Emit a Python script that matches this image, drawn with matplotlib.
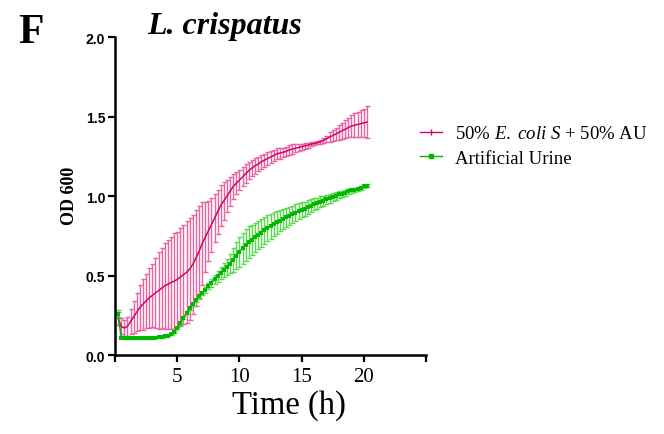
import numpy as np
import matplotlib
matplotlib.use('Agg')
import matplotlib.pyplot as plt
from matplotlib.lines import Line2D

plt.rcParams['mathtext.fontset'] = 'custom'
plt.rcParams['mathtext.rm'] = 'Liberation Serif'
plt.rcParams['mathtext.it'] = 'Liberation Serif:italic'

# sampling times (h), every 15 min
time = np.arange(0.25, 20.26, 0.25)

# 50% E. coli S + 50% AU : mean and SD
ecoli_mean = [0.23, 0.18, 0.17, 0.18, 0.21, 0.24, 0.27, 0.30, 0.32, 0.34,
              0.36, 0.375, 0.39, 0.405, 0.42, 0.435, 0.445, 0.455, 0.465, 0.475,
              0.49, 0.505, 0.52, 0.54, 0.57, 0.61, 0.65, 0.70, 0.74, 0.78,
              0.82, 0.86, 0.90, 0.94, 0.97, 1.00, 1.03, 1.06, 1.08, 1.10,
              1.12, 1.14, 1.16, 1.175, 1.19, 1.20, 1.215, 1.225, 1.235, 1.245,
              1.255, 1.265, 1.27, 1.275, 1.28, 1.29, 1.295, 1.30, 1.305, 1.31,
              1.315, 1.32, 1.325, 1.33, 1.335, 1.34, 1.35, 1.36, 1.37, 1.38,
              1.39, 1.40, 1.41, 1.42, 1.43, 1.44, 1.445, 1.45, 1.455, 1.46,
              1.465]
ecoli_sd = [0.04, 0.05, 0.05, 0.06, 0.08, 0.10, 0.12, 0.14, 0.16, 0.17,
            0.19, 0.20, 0.22, 0.24, 0.25, 0.27, 0.28, 0.29, 0.30, 0.30,
            0.31, 0.31, 0.32, 0.32, 0.31, 0.30, 0.29, 0.26, 0.22, 0.19,
            0.17, 0.15, 0.14, 0.13, 0.12, 0.10, 0.09, 0.08, 0.07, 0.065,
            0.06, 0.06, 0.055, 0.05, 0.05, 0.045, 0.045, 0.04, 0.04, 0.04,
            0.035, 0.035, 0.035, 0.03, 0.03, 0.03, 0.03, 0.025, 0.025, 0.02,
            0.02, 0.015, 0.012, 0.01, 0.008, 0.01, 0.015, 0.02, 0.03, 0.035,
            0.04, 0.045, 0.05, 0.055, 0.06, 0.07, 0.075, 0.08, 0.085, 0.09,
            0.10]

# Artificial Urine : mean and SD
au_mean = [0.26, 0.11, 0.105, 0.105, 0.105, 0.105, 0.105, 0.105, 0.105, 0.105,
           0.107, 0.108, 0.11, 0.112, 0.115, 0.118, 0.122, 0.13, 0.145, 0.17,
           0.20, 0.235, 0.265, 0.295, 0.32, 0.345, 0.37, 0.39, 0.41, 0.435,
           0.455, 0.475, 0.495, 0.515, 0.535, 0.555, 0.575, 0.60, 0.625, 0.65,
           0.67, 0.69, 0.71, 0.725, 0.74, 0.755, 0.77, 0.785, 0.80, 0.81,
           0.825, 0.835, 0.845, 0.855, 0.865, 0.875, 0.885, 0.895, 0.905, 0.915,
           0.92, 0.93, 0.94, 0.95, 0.955, 0.965, 0.97, 0.98, 0.985, 0.995,
           1.00, 1.01, 1.015, 1.02, 1.03, 1.035, 1.04, 1.045, 1.05, 1.06,
           1.065]
au_sd = [0.02, 0.005, 0.005, 0.005, 0.005, 0.005, 0.005, 0.005, 0.005, 0.005,
         0.005, 0.005, 0.005, 0.005, 0.005, 0.005, 0.005, 0.005, 0.005, 0.008,
         0.01, 0.01, 0.01, 0.01, 0.012, 0.012, 0.015, 0.015, 0.018, 0.02,
         0.025, 0.03, 0.035, 0.04, 0.045, 0.05, 0.06, 0.075, 0.085, 0.095,
         0.10, 0.10, 0.10, 0.095, 0.093, 0.09, 0.088, 0.085, 0.082, 0.079,
         0.075, 0.072, 0.068, 0.065, 0.062, 0.058, 0.055, 0.052, 0.049, 0.046,
         0.044, 0.042, 0.039, 0.037, 0.035, 0.033, 0.031, 0.029, 0.027, 0.025,
         0.023, 0.021, 0.019, 0.017, 0.015, 0.013, 0.012, 0.011, 0.01, 0.009,
         0.008]

pink_line = '#d6006c'
pink_err = '#e7649e'
green_line = '#00b800'
green_err = '#5cd84e'

fig = plt.figure(figsize=(6.64, 4.35), dpi=100)
ax = fig.add_axes([0.1732, 0.1816, 0.4684, 0.731])

ax.errorbar(time, ecoli_mean, yerr=ecoli_sd, fmt='none', ecolor=pink_err,
            elinewidth=1, capsize=1.8, capthick=1)
ax.plot(time, ecoli_mean, color=pink_line, lw=1.1)
ax.errorbar(time, au_mean, yerr=au_sd, fmt='none', ecolor=green_err,
            elinewidth=1, capsize=1.8, capthick=1)
ax.plot(time, au_mean, color=green_line, lw=1.2, marker='s', ms=3,
        markeredgewidth=0)

ax.set_xlim(0, 25)
ax.set_ylim(0, 2.0)
ax.set_xticks([0, 5, 10, 15, 20, 25])
ax.set_xticklabels(['', '5', '10', '15', '20', ''], family='Liberation Serif',
                   fontsize=15)
ax.set_yticks([0, 0.5, 1.0, 1.5, 2.0])
ax.set_yticklabels(['0.0', '0.5', '1.0', '1.5', '2.0'],
                   family='Liberation Sans', fontweight='bold', fontsize=10)
ax.tick_params(direction='out', length=5, width=1.6)
ax.tick_params(axis='x', pad=3.5)
ax.tick_params(axis='y', pad=2)
for s in ['top', 'right']:
    ax.spines[s].set_visible(False)
for s in ['left', 'bottom']:
    ax.spines[s].set_linewidth(1.8)

ax.set_xlabel('Time (h)', family='Liberation Serif', fontsize=23.5)
ax.xaxis.set_label_coords(0.56, -0.108)
ax.set_ylabel('OD 600', family='Liberation Serif', fontweight='bold',
              fontsize=13, va='center')
ax.yaxis.set_label_coords(-0.146, 0.505)

fig.text(0.222, 0.94, 'L. crispatus', family='Liberation Serif',
         style='italic', fontweight='bold', fontsize=23, va='center')
fig.text(0.027, 0.923, 'F', family='Liberation Serif', fontweight='bold',
         fontsize=30, va='center')

handles = [Line2D([], [], color=pink_line, lw=1, marker='|', ms=4),
           Line2D([], [], color=green_line, lw=1, marker='s', ms=2.6)]
labels = [r'50% $\mathit{E.}$ $\mathit{coli}$ $\mathit{S}$ + 50% AU',
          'Artificial Urine']
fig.legend(handles, labels, loc='upper left', bbox_to_anchor=(0.607, 0.749),
           frameon=False, prop={'family': 'Liberation Serif', 'size': 13.5},
           handlelength=1.17, handletextpad=0.7, labelspacing=0.4)

fig.savefig('out.png', dpi=100)
